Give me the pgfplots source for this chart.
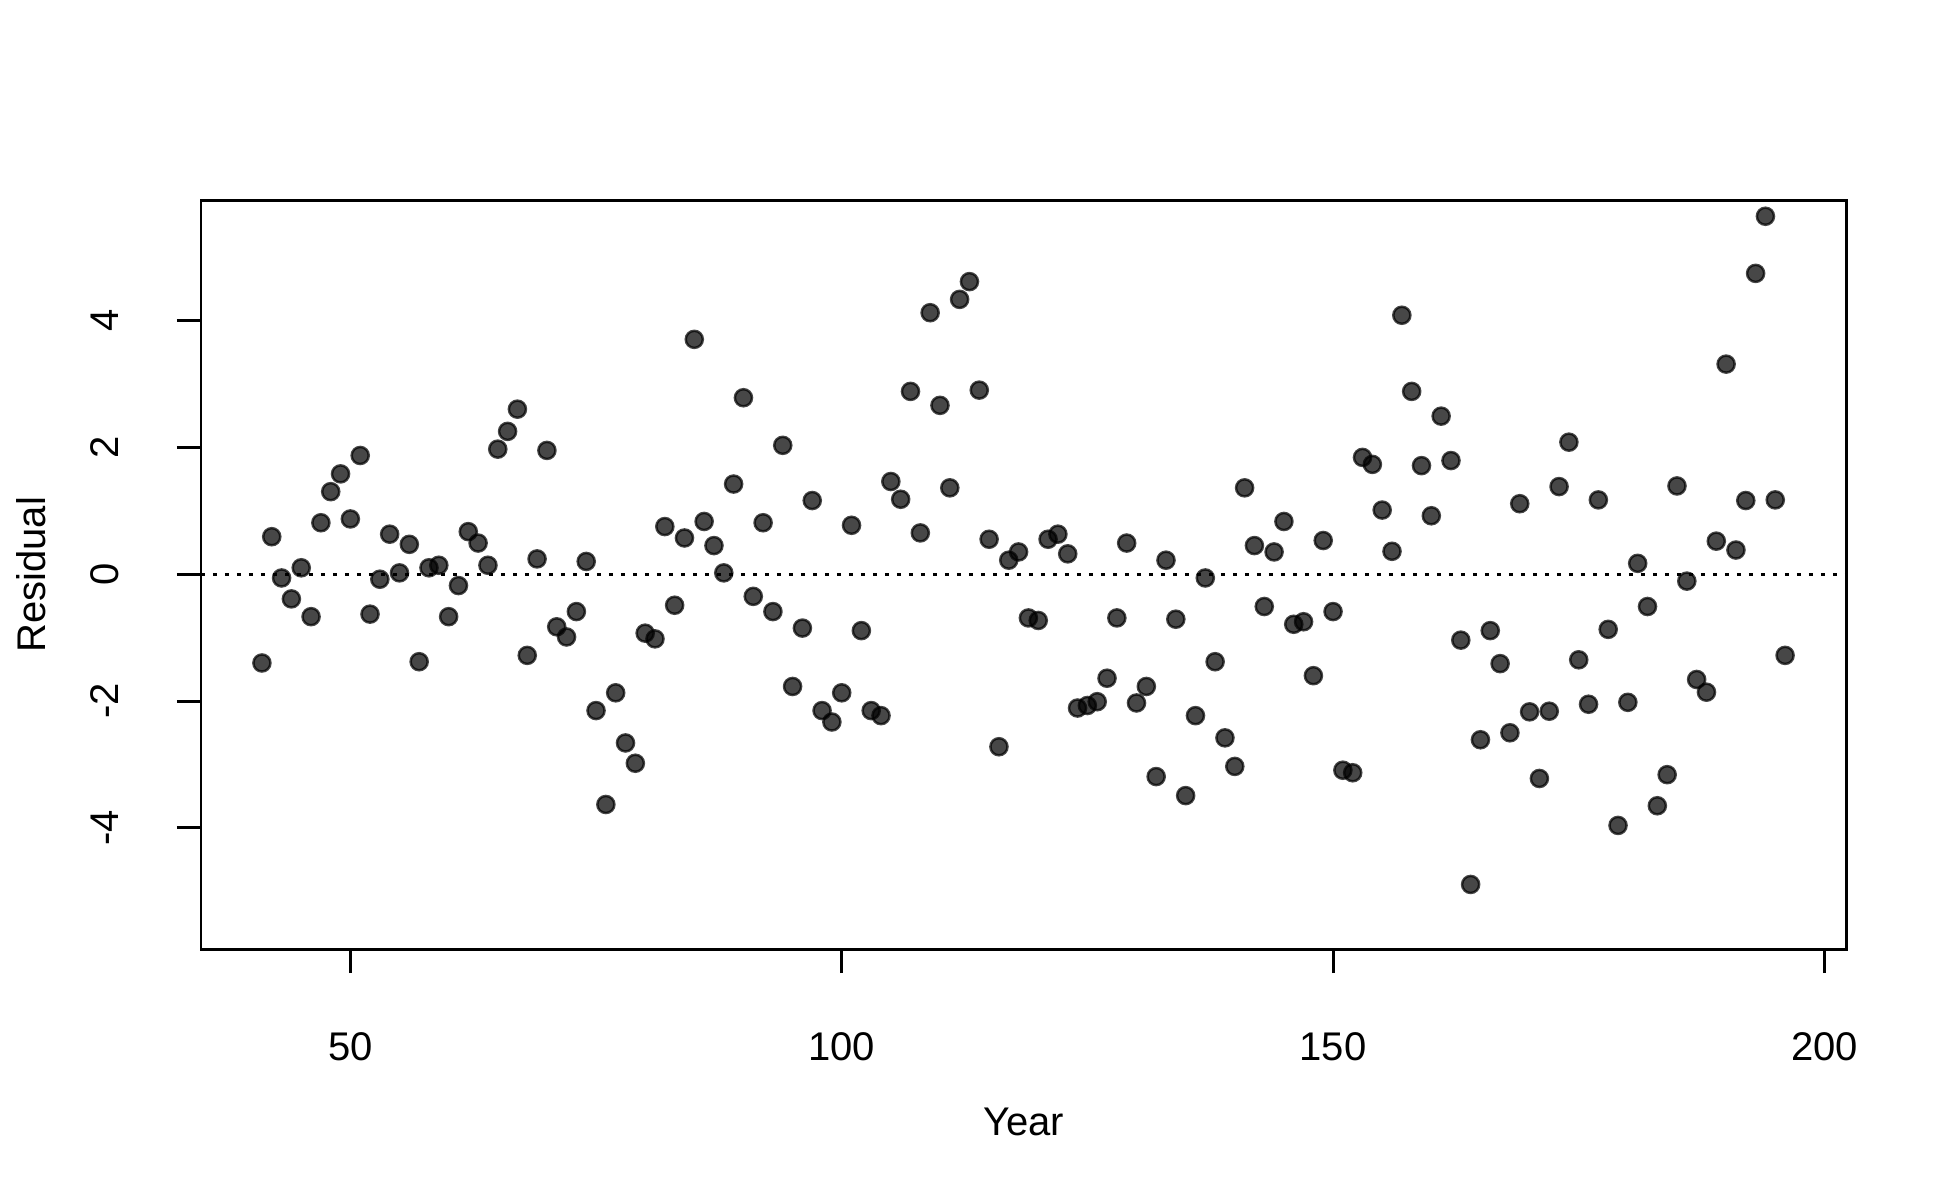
\documentclass[border=0pt]{standalone}
\usepackage{fontspec}
\setmainfont{Liberation Sans}
\usepackage{pgfplots}
\pgfplotsset{compat=1.18}

% residuals by year
\newcommand{\residuals}{
(41,-1.40) (42,0.59) (43,-0.06) (44,-0.39) (45,0.10) (46,-0.67) (47,0.81) (48,1.30)
(49,1.58) (50,0.87) (51,1.87) (52,-0.63) (53,-0.08) (54,0.63) (55,0.02) (56,0.47)
(57,-1.38) (58,0.10) (59,0.14) (60,-0.67) (61,-0.18) (62,0.67) (63,0.49) (64,0.14)
(65,1.97) (66,2.25) (67,2.60) (68,-1.28) (69,0.24) (70,1.95) (71,-0.83) (72,-0.99)
(73,-0.59) (74,0.20) (75,-2.15) (76,-3.63) (77,-1.87) (78,-2.66) (79,-2.98) (80,-0.93)
(81,-1.02) (82,0.75) (83,-0.49) (84,0.57) (85,3.70) (86,0.83) (87,0.45) (88,0.02)
(89,1.42) (90,2.78) (91,-0.35) (92,0.81) (93,-0.59) (94,2.03) (95,-1.77) (96,-0.85)
(97,1.16) (98,-2.15) (99,-2.33) (100,-1.87) (101,0.77) (102,-0.89) (103,-2.15) (104,-2.23)
(105,1.46) (106,1.18) (107,2.88) (108,0.65) (109,4.12) (110,2.66) (111,1.36) (112,4.33)
(113,4.61) (114,2.90) (115,0.55) (116,-2.72) (117,0.22) (118,0.35) (119,-0.69) (120,-0.73)
(121,0.55) (122,0.63) (123,0.32) (124,-2.11) (125,-2.07) (126,-2.01) (127,-1.64) (128,-0.69)
(129,0.49) (130,-2.03) (131,-1.77) (132,-3.19) (133,0.22) (134,-0.71) (135,-3.49) (136,-2.23)
(137,-0.06) (138,-1.38) (139,-2.58) (140,-3.03) (141,1.36) (142,0.45) (143,-0.51) (144,0.35)
(145,0.83) (146,-0.79) (147,-0.75) (148,-1.60) (149,0.53) (150,-0.59) (151,-3.09) (152,-3.13)
(153,1.84) (154,1.73) (155,1.01) (156,0.36) (157,4.08) (158,2.88) (159,1.71) (160,0.92)
(161,2.49) (162,1.79) (163,-1.04) (164,-4.89) (165,-2.61) (166,-0.89) (167,-1.41) (168,-2.50)
(169,1.11) (170,-2.17) (171,-3.22) (172,-2.16) (173,1.38) (174,2.08) (175,-1.35) (176,-2.05)
(177,1.17) (178,-0.87) (179,-3.96) (180,-2.02) (181,0.17) (182,-0.51) (183,-3.65) (184,-3.16)
(185,1.39) (186,-0.11) (187,-1.66) (188,-1.86) (189,0.52) (190,3.31) (191,0.38) (192,1.16)
(193,4.74) (194,5.64) (195,1.17) (196,-1.28)
}

\begin{document}
\begin{tikzpicture}[font=\fontsize{9.6bp}{11.5bp}\selectfont]
\begin{axis}[
    name=ax,
    scale only axis,
    width=394.8bp, height=179.7bp,
    xmin=34.8, xmax=202.2,
    ymin=-5.91, ymax=5.89,
    axis line style={line width=0.72bp},
    every tick/.style={black, line width=0.72bp},
    tick align=outside,
    major tick length=5.76bp,
    xtick={50,100,150,200}, xticklabels={50,100,150,200},
    ytick={-4,-2,0,2,4}, yticklabels={-4,-2,0,2,4},
    xtick pos=bottom, ytick pos=left,
    xticklabel style={anchor=base},
    yticklabel style={rotate=90, anchor=base},
    xticklabel shift=21.0bp,
    yticklabel shift=14.0bp,
    xlabel={Year}, ylabel={Residual},
    xlabel style={at={([yshift=-44.7bp]axis description cs:0.5,0)}, anchor=base},
    ylabel style={at={([xshift=-37.4bp]axis description cs:0,0.5)}, rotate=0, anchor=base},
    clip=false,
]
\addplot[black, line width=0.7bp, dash pattern=on 0.96bp off 1.92bp]
    coordinates {(34.8,0) (202.2,0)};
\addplot[only marks, mark=*, mark size=2.05bp,
    mark options={fill=black, draw=black, opacity=0.72, line width=0.6bp}]
    coordinates {\residuals};
\end{axis}
\pgfresetboundingbox
\path ([xshift=-48.24bp,yshift=-60.1bp]ax.south west) rectangle ([xshift=24.96bp,yshift=48.1bp]ax.north east);
\end{tikzpicture}
\end{document}
